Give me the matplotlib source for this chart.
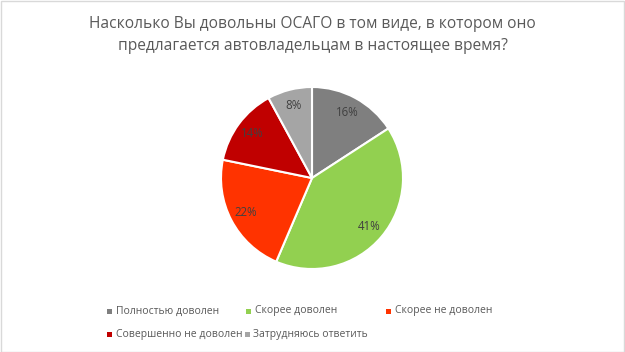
import matplotlib.pyplot as plt
from matplotlib.patches import Rectangle

title = "Насколько Вы довольны ОСАГО в том виде, в котором оно\nпредлагается автовладельцам в настоящее время?"
labels = ["Полностью доволен", "Скорее доволен", "Скорее не доволен",
          "Совершенно не доволен", "Затрудняюсь ответить"]
values = [16, 41, 22, 14, 8]
colors = ["#7F7F7F", "#92D050", "#FF3300", "#C00000", "#A5A5A5"]

# legend slots (figure px from left/top), Excel-like flow layout
legend_pos = [(110, 311), (249, 311), (389, 311), (110, 334), (247, 334)]

W, H = 625, 352
plt.rcParams['font.family'] = ['Open Sans', 'DejaVu Sans']

fig = plt.figure(figsize=(W / 100, H / 100), dpi=100)
fig.patch.set_facecolor("white")
fig.patches.append(Rectangle((0.5 / W, 0.5 / H), 1 - 1.5 / W, 1 - 1.5 / H,
                             transform=fig.transFigure, fill=False,
                             edgecolor="#D9D9D9", linewidth=1))

# pie centred at (312, 178) px, radius 91 px
cx, cy, r = 312, 178, 91
ax = fig.add_axes([(cx - r) / W, (H - cy - r) / H, 2 * r / W, 2 * r / H])
wedges, texts, autotexts = ax.pie(
    values, colors=colors, startangle=90, counterclock=False,
    autopct=lambda p: f"{p:.0f}%", pctdistance=0.82,
    wedgeprops=dict(edgecolor="white", linewidth=1.5),
    textprops=dict(color="#404040", fontsize=8.3))
ax.set_xlim(-1, 1)
ax.set_ylim(-1, 1)
ax.set_aspect("auto")
for t, v in zip(autotexts, values):
    t.set_text(f"{v}%")

fig.text(0.5, 1 - 35 / H, title, ha="center", va="center", fontsize=11.2,
         color="#595959", linespacing=1.55)

for (x, y), lab, col in zip(legend_pos, labels, colors):
    fig.patches.append(Rectangle(((x - 2.5) / W, (H - y - 2.5) / H), 5 / W, 5 / H,
                                 transform=fig.transFigure, facecolor=col,
                                 edgecolor="none"))
    fig.text((x + 6) / W, (H - y) / H, lab, ha="left", va="center",
             fontsize=7.5, color="#595959")

fig.savefig("out.png", dpi=100)
